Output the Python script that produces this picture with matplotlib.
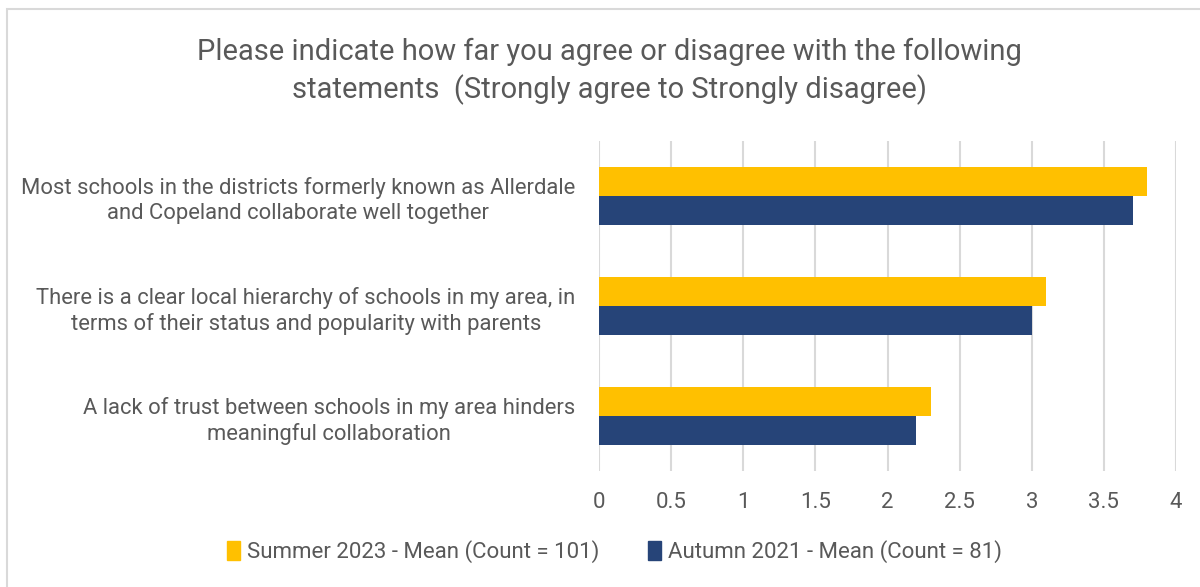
import matplotlib.pyplot as plt
import matplotlib.patches as mpatches
import numpy as np

# survey statements, top to bottom
statements = [
    "Most schools in the districts formerly known as Allerdale\nand Copeland collaborate well together",
    "There is a clear local hierarchy of schools in my area, in\nterms of their status and popularity with parents",
    "A lack of trust between schools in my area hinders\nmeaningful collaboration",
]
summer_2023 = [3.8, 3.1, 2.3]
autumn_2021 = [3.7, 3.0, 2.2]
series_names = ["Summer 2023 - Mean (Count = 101)", "Autumn 2021 - Mean (Count = 81)"]
xticks = [0, 0.5, 1, 1.5, 2, 2.5, 3, 3.5, 4]
xtick_labels = ["0", "0.5", "1", "1.5", "2", "2.5", "3", "3.5", "4"]

plt.rcParams['font.family'] = ['Liberation Sans Narrow', 'Roboto', 'DejaVu Sans']
text_col = "#595959"
yellow = "#FFC000"
navy = "#264478"

fig = plt.figure(figsize=(12, 5.87), dpi=100)
ax = fig.add_axes([0.4992, 0.1976, 0.4808, 0.5622])

y = np.arange(len(statements))
h = 0.264
ax.barh(y - h / 2, summer_2023, height=h, color=yellow, label=series_names[0], zorder=3)
ax.barh(y + h / 2, autumn_2021, height=h, color=navy, label=series_names[1], zorder=3)

ax.set_ylim(len(statements) - 0.5, -0.5)
ax.set_xlim(0, 4)
ax.set_xticks(xticks)
ax.set_xticklabels(xtick_labels, fontsize=16)
ax.set_yticks(y)
ax.set_yticklabels(statements, multialignment='center', linespacing=1.25, fontsize=15.8)
ax.tick_params(axis='both', length=0, colors=text_col)
ax.tick_params(axis='x', pad=15)
ax.tick_params(axis='y', pad=17)
ax.xaxis.grid(True, color="#D9D9D9", linewidth=1.5, zorder=0)
for s in ax.spines.values():
    s.set_visible(False)

fig.text(0.508, 0.879, "Please indicate how far you agree or disagree with the following\nstatements  (Strongly agree to Strongly disagree)",
         ha='center', va='center', fontsize=21, color=text_col, linespacing=1.35)

handles = [mpatches.Patch(color=yellow), mpatches.Patch(color=navy)]
fig.legend(handles, series_names, loc='center', bbox_to_anchor=(0.512, 0.06), ncol=2,
           frameon=False, fontsize=16, labelcolor=text_col, handlelength=0.6, handleheight=0.9,
           handletextpad=0.3, columnspacing=2.2)

# outer chart frame
fig.patches.append(mpatches.Rectangle((7 / 1200, -0.1), 1.2, 1 - 9 / 587 + 0.1, transform=fig.transFigure,
                                      fill=False, edgecolor="#D9D9D9", linewidth=1.5))

fig.savefig("out.png", dpi=100, facecolor="white")
